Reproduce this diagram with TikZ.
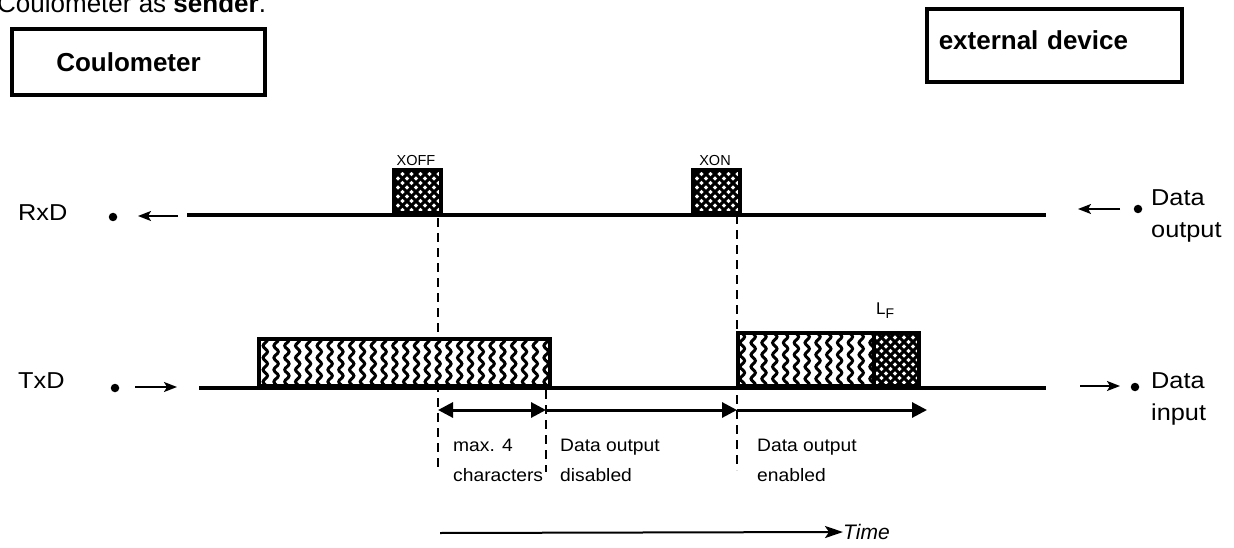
\documentclass[tikz,border=0pt]{standalone}
\usepackage{fontspec}
\setmainfont{Liberation Sans}
\usepackage{graphicx}
\usetikzlibrary{arrows.meta,decorations.pathmorphing}
\newcommand\hstr[2]{\scalebox{#1}[1]{#2}}
\begin{document}
\begin{tikzpicture}[x=1pt,y=-1pt,
  sig/.style={line width=4.5pt},
  frame/.style={draw, line width=4pt, inner sep=0pt, fill=white},
  dashv/.style={line width=2pt, dash pattern=on 9pt off 6pt},
  meas/.style={line width=3pt},
  dotn/.style={circle, fill, inner sep=0pt, minimum size=8.5pt},
  smallarr/.style={line width=1.8pt, -{Stealth[length=13pt,width=10pt,inset=3pt]}},
  hatchbox/.style={frame, path picture={
    \foreach \k in {-150,-141,...,150}{
      \draw[line width=3pt] ([shift={(\k pt,-50pt)}]path picture bounding box.center) -- ++(100pt,100pt);
      \draw[line width=3pt] ([shift={(\k pt,-50pt)}]path picture bounding box.center) -- ++(-100pt,100pt);}}},
  wavybox/.style={frame, path picture={
    \foreach \k in {-150,-139.2,...,150}{
      \draw[line width=3pt, decorate, decoration={snake, amplitude=2.2pt, segment length=12pt}]
        ([shift={(\k pt,-35pt)}]path picture bounding box.center) -- ++(0pt,70pt);}}},
  big/.style={font=\fontsize{23}{32}\selectfont, inner sep=0pt, align=left},
  lbl/.style={font=\fontsize{18}{30}\selectfont, inner sep=0pt, align=left},
  tiny/.style={font=\fontsize{14.5}{17}\selectfont, inner sep=0pt},
]
\clip (0,0) rectangle (1234,548);
\fill[white] (0,0) rectangle (1234,548);

% title and device boxes
\node[anchor=base west, inner sep=0pt, font=\fontsize{26}{30}\selectfont] (title) at (-3,13) {Coulometer as \textbf{sender}.};
\node[frame, minimum width=253.5pt, minimum height=66.5pt, anchor=north west,
      font=\bfseries\fontsize{26}{30}\selectfont] (coul) at (9.75,26.75) {Coulometer\hspace*{20pt}};
\node[frame, minimum height=73.5pt, anchor=north west, inner xsep=12pt, text width=231.5pt,
      align=left, text depth=10pt, font=\bfseries\fontsize{26}{30}\selectfont] (ext) at (924.75,6.75) {external device};

% dashed timing lines
\coordinate (d1t) at (438,218); \coordinate (d1b) at (438,472);
\coordinate (d2t) at (546,390); \coordinate (d2b) at (546,472);
\coordinate (d3t) at (737,215); \coordinate (d3b) at (737,470);
\draw[dashv] (d1t) -- (d1b);
\draw[dashv] (d2t) -- (d2b);
\draw[dashv] (d3t) -- (d3b);

% RxD row
\node[big, anchor=base west] (rxd) at (18,221) {\hstr{1.1}{RxD}};
\node[dotn] (rxdot) at (113,217) {};
\coordinate (rxa1) at (178,216); \coordinate (rxa2) at (138,216);
\draw[smallarr] (rxa1) -- (rxa2);
\coordinate (rxL) at (187,215); \coordinate (rxR) at (1046,215);
\draw[sig] (rxL) -- (rxR);
\node[hatchbox, minimum width=47pt, minimum height=43pt, anchor=south west] (xoff) at (392,215) {};
\node[hatchbox, minimum width=47pt, minimum height=43pt, anchor=south west] (xon) at (691,215) {};
\node[tiny, anchor=base] (xofft) at (416,166) {XOFF};
\node[tiny, anchor=base] (xont) at (715,166) {XON};
\coordinate (rxb1) at (1120,209); \coordinate (rxb2) at (1078,209);
\draw[smallarr] (rxb1) -- (rxb2);
\node[dotn] (rxdot2) at (1138,209) {};
\node[big, anchor=north west] (dout) at (1151,189) {\hstr{1.1}{Data}\\\hstr{1.1}{output}};

% TxD row
\node[big, anchor=base west] (txd) at (18,388) {\hstr{1.1}{TxD}};
\node[dotn] (txdot) at (115,388) {};
\coordinate (txa1) at (135,387); \coordinate (txa2) at (177,387);
\draw[smallarr] (txa1) -- (txa2);
\coordinate (txL) at (199,388); \coordinate (txR) at (1046,388);
\draw[sig] (txL) -- (txR);
\node[wavybox, minimum width=291pt, minimum height=47pt, anchor=south west] (blk1) at (257,388) {};
\node[wavybox, minimum width=136pt, minimum height=53pt, anchor=south west] (blk2) at (736,388) {};
\node[hatchbox, minimum width=45pt, minimum height=53pt, anchor=south west] (lf) at (872,388) {};
\node[anchor=base west, inner sep=0pt, font=\fontsize{17}{20}\selectfont] (lft) at (876,314) {L\raisebox{-4pt}{\fontsize{14}{16}\selectfont F}};
\coordinate (txb1) at (1080,386); \coordinate (txb2) at (1120,386);
\draw[smallarr] (txb1) -- (txb2);
\node[dotn] (txdot2) at (1135,387) {};
\node[big, anchor=north west] (din) at (1151,372) {\hstr{1.1}{Data}\\\hstr{1.1}{input}};

% measurement arrows
\coordinate (m1) at (438,410); \coordinate (m2) at (546,410);
\coordinate (m3) at (737,410); \coordinate (m4) at (927,410);
\draw[meas, {Triangle[length=15pt,width=15pt]}-{Triangle[length=15pt,width=15pt]}] (m1) -- (m2);
\draw[meas, -{Triangle[length=15pt,width=15pt]}] (m2) -- (m3);
\draw[meas, -{Triangle[length=15pt,width=15pt]}] (m3) -- (m4);

\node[lbl, anchor=north west] (l1) at (453,439) {\hstr{1.07}{max. 4}\\\hstr{1.07}{characters}};
\node[lbl, anchor=north west] (l2) at (560,439) {\hstr{1.07}{Data output}\\\hstr{1.07}{disabled}};
\node[lbl, anchor=north west] (l3) at (757,439) {\hstr{1.07}{Data output}\\\hstr{1.07}{enabled}};

% time axis
\coordinate (tl) at (440,533);
\node[anchor=west, inner sep=0pt, font=\itshape\fontsize{21}{25}\selectfont] (time) at (843,532) {Time};
\draw[line width=2pt, -{Stealth[length=18pt,width=12pt,inset=4pt]}] (tl) -- (time.west);
\end{tikzpicture}
\end{document}
